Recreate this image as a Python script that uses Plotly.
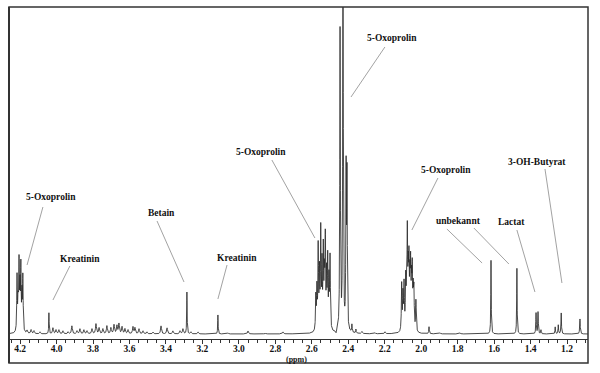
import numpy as np
import plotly.graph_objects as go

# ---- peaks: position (ppm) and height above baseline ----
oxo_a_ppm = [4.217, 4.211, 4.206, 4.201, 4.196, 4.190, 4.185]
oxo_a_int = [55, 40, 66, 42, 63, 35, 54]

kreatinin_ppm = [4.042, 3.115]
kreatinin_int = [21, 19]

betain_ppm = [3.285]
betain_int = [42]

oxo_b_ppm = [2.578, 2.572, 2.565, 2.558, 2.551, 2.544, 2.537, 2.531, 2.526, 2.519, 2.513, 2.506, 2.500]
oxo_b_int = [34, 40, 82, 55, 97, 62, 77, 58, 86, 52, 69, 48, 72]

oxo_c_ppm = [2.445, 2.429, 2.412, 2.407]
oxo_c_int = [302, 420, 156, 150]

oxo_d_ppm = [2.107, 2.100, 2.094, 2.085, 2.080, 2.076, 2.071, 2.067, 2.062, 2.058, 2.053, 2.049, 2.044, 2.040, 2.029]
oxo_d_int = [47, 35, 45, 48, 40, 90, 50, 61, 45, 58, 42, 55, 35, 38, 31]

unbekannt_ppm = [1.617, 1.475]
unbekannt_int = [74, 66]

lactat_ppm = [1.370, 1.359, 1.343]
lactat_int = [21, 22, 4]

butyrat_ppm = [1.265, 1.248, 1.232]
butyrat_int = [7, 9, 21]

other_ppm = [1.957, 1.129, 2.380, 2.358]
other_int = [7, 15, 8, 4]

# small baseline signals (mostly 4.2-3.3 ppm)
minor_ppm = [4.162, 4.140, 4.124, 4.091, 4.020, 4.003, 3.987, 3.965, 3.937, 3.916,
             3.888, 3.872, 3.850, 3.833, 3.806, 3.784, 3.767, 3.746, 3.724, 3.702,
             3.685, 3.669, 3.658, 3.641, 3.625, 3.608, 3.581, 3.570, 3.548, 3.526,
             3.504, 3.471, 3.427, 3.394, 3.362, 3.323, 3.307, 3.263, 3.224, 3.060,
             2.950, 2.857, 2.758, 2.325, 2.254, 2.199, 1.897, 1.787]
minor_int = [3, 4, 3, 2, 6, 4, 4, 3, 2, 8,
             3, 5, 4, 3, 5, 10, 6, 5, 8, 6,
             9, 8, 10, 7, 5, 4, 7, 6, 5, 3,
             2, 2, 8, 6, 3, 3, 5, 2, 2, 1,
             3, 1, 2, 2, 1, 2, 1, 1]

dip_ppm = [2.467]
dip_int = [-3]

tick_values = [4.2, 4.0, 3.8, 3.6, 3.4, 3.2, 3.0, 2.8, 2.6, 2.4, 2.2, 2.0, 1.8, 1.6, 1.4, 1.2]

# ---- build the spectrum line from the peak list ----
groups = [
    (oxo_a_ppm, oxo_a_int, 0.0018),
    (kreatinin_ppm, kreatinin_int, 0.0014),
    (betain_ppm, betain_int, 0.0014),
    (oxo_b_ppm, oxo_b_int, 0.0020),
    (oxo_c_ppm, oxo_c_int, 0.0018),
    (oxo_d_ppm, oxo_d_int, 0.0020),
    (unbekannt_ppm, unbekannt_int, 0.0014),
    (lactat_ppm, lactat_int, 0.0016),
    (butyrat_ppm, butyrat_int, 0.0016),
    (other_ppm, other_int, 0.0018),
    (minor_ppm, minor_int, 0.0030),
    (dip_ppm, dip_int, 0.0030),
]
x = np.arange(4.261, 1.085, -0.0003)
y = np.zeros_like(x)
for pp, hh, w in groups:
    for p, h in zip(pp, hh):
        y += h * w * w / ((x - p) ** 2 + w * w)

fig = go.Figure()
fig.add_trace(go.Scatter(x=x, y=y, mode="lines",
                         line=dict(color="#2a2a2a", width=0.85),
                         hoverinfo="skip"))

# ---- labels with leader lines (data coordinates) ----
labels = [
    ("5-Oxoprolin", 4.031, 137, [(4.075, 127, 4.162, 69)]),
    ("Kreatinin", 3.871, 75, [(3.927, 68, 4.020, 34)]),
    ("Betain", 3.427, 121, [(3.449, 113, 3.301, 52)]),
    ("Kreatinin", 3.009, 76, [(3.065, 69, 3.115, 35)]),
    ("5-Oxoprolin", 2.879, 182, [(2.819, 174, 2.583, 96)]),
    ("5-Oxoprolin", 2.161, 296, [(2.199, 287, 2.385, 237)]),
    ("5-Oxoprolin", 1.864, 164, [(1.908, 156, 2.051, 104)]),
    ("unbekannt", 1.798, 113, [(1.859, 105, 1.666, 71), (1.711, 106, 1.519, 70)]),
    ("Lactat", 1.502, 112, [(1.475, 104, 1.376, 42)]),
    ("3-OH-Butyrat", 1.365, 172, [(1.321, 165, 1.228, 51)]),
]
for text, lx, ly, lines in labels:
    fig.add_annotation(x=lx, y=ly, text="<b>" + text + "</b>", showarrow=False,
                       font=dict(family="Liberation Serif", size=9.5, color="#111"),
                       xanchor="center", yanchor="middle")
    for x0, y0, x1, y1 in lines:
        fig.add_shape(type="line", x0=x0, y0=y0, x1=x1, y1=y1, xref="x", yref="y",
                      line=dict(color="#8a8a8a", width=0.8))

fig.add_annotation(x=0.497, y=-0.062, xref="paper", yref="paper",
                   text="<b>(ppm)</b>", showarrow=False,
                   font=dict(family="Liberation Serif", size=8, color="#111"),
                   xanchor="center", yanchor="middle")

# outer frame
fig.add_shape(type="rect", xref="paper", yref="paper", x0=0, x1=1, y0=-0.0723, y1=1,
              line=dict(color="#333", width=1.5))
fig.add_shape(type="line", xref="paper", yref="paper", x0=0, x1=0, y0=-0.0723, y1=1,
              line=dict(color="#333", width=2))

fig.update_layout(
    width=600, height=373,
    margin=dict(l=9, r=12, t=7, b=34),
    plot_bgcolor="white", paper_bgcolor="white",
    showlegend=False,
    xaxis=dict(range=[4.261, 1.085], tickmode="array", tickvals=tick_values,
               ticktext=["%.1f" % v for v in tick_values],
               ticks="outside", ticklen=4, tickwidth=1, tickcolor="#333",
               ticklabelstandoff=-3,
               showline=True, linecolor="#333", linewidth=1,
               showgrid=False, zeroline=False,
               tickfont=dict(family="Liberation Serif", size=9.5, color="#111", weight="bold"),
               minor=dict(dtick=0.05, tick0=0, ticks="outside", ticklen=2.5,
                          tickcolor="#333", tickwidth=1)),
    yaxis=dict(range=[-5, 327], visible=False),
)

fig.write_html("out.html", config={"displayModeBar": False},
               post_script="document.body.style.margin='0';document.body.style.overflow='hidden';")
